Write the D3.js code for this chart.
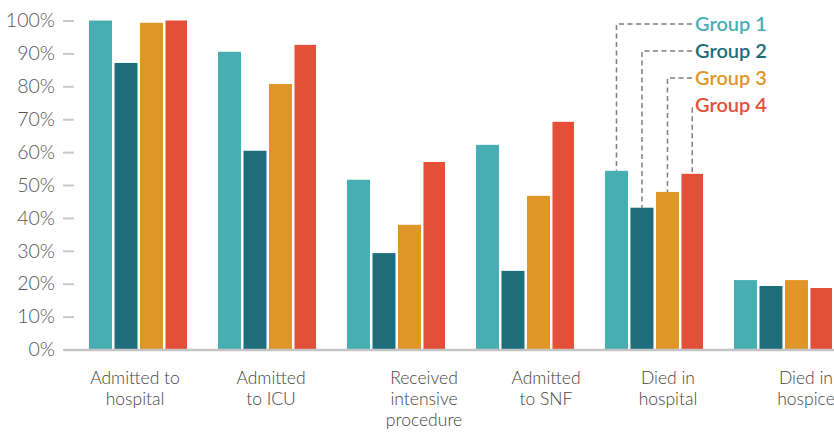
<!DOCTYPE html>
<html>
<head>
<meta charset="utf-8">
<script src="https://cdn.jsdelivr.net/npm/d3@7/dist/d3.min.js"></script>
<style>
  html, body { margin: 0; padding: 0; background: #fff; }
  svg { display: block; }
</style>
</head>
<body>
<svg id="chart" width="834" height="432"></svg>
<script>
// Outcome categories (multi-line labels split with "|")
const categories = [
  "Admitted to|hospital",
  "Admitted|to ICU",
  "Received|intensive|procedure",
  "Admitted|to SNF",
  "Died in|hospital",
  "Died in|hospice"
];
const seriesNames = ["Group 1", "Group 2", "Group 3", "Group 4"];

// Share of each group (%) per category
const group1 = [100, 90.5, 51.6, 62.2, 54.3, 21.1];
const group2 = [87.1, 60.4, 29.3, 23.9, 43.1, 19.3];
const group3 = [99.3, 80.7, 37.9, 46.7, 47.9, 21.1];
const group4 = [100, 92.6, 57.0, 69.2, 53.4, 18.7];
const yTicks = [0, 10, 20, 30, 40, 50, 60, 70, 80, 90, 100];

const seriesValues = [group1, group2, group3, group4];
const colors = ["#47AFB2", "#1D6E7A", "#E09626", "#E34F38"];

// Horizontal nudges of the category captions relative to their bar clusters
const labelNudge = [-3, 4, 28, 21, 14, 23];

const svg = d3.select("#chart");
const font = "Lato, 'Noto Sans', sans-serif";

const y = d3.scaleLinear().domain([0, 100]).range([349.5, 20.5]);

const x0 = d3.scaleBand()
  .domain(categories)
  .range([89, 832])
  .paddingInner(0.24)
  .paddingOuter(0);

const x1 = d3.scaleBand()
  .domain(seriesNames)
  .range([0, 99.5])
  .paddingInner(0.098)
  .paddingOuter(0);

// Y axis: short tick dashes and percentage labels
const yAxis = d3.axisLeft(y)
  .tickValues(yTicks)
  .tickFormat(d => d + "%")
  .tickSize(11)
  .tickPadding(8);

const ga = svg.append("g")
  .attr("transform", "translate(74,0)")
  .call(yAxis);
ga.select(".domain").remove();
ga.selectAll(".tick line")
  .attr("stroke", "#c8c8c8")
  .attr("stroke-width", 2);
ga.selectAll(".tick text")
  .attr("fill", "#555")
  .style("font-family", font)
  .style("font-weight", 300)
  .style("font-size", "19.5px");

// Bars
const cat = svg.append("g").selectAll("g")
  .data(categories)
  .join("g")
  .attr("transform", d => `translate(${x0(d)},0)`);

cat.selectAll("rect")
  .data((c, ci) => seriesNames.map((s, si) => ({ s, si, v: seriesValues[si][ci] })))
  .join("rect")
  .attr("x", d => x1(d.s))
  .attr("y", d => y(d.v))
  .attr("width", d => Math.min(x1.bandwidth(), x0.bandwidth() - x1(d.s)))
  .attr("height", d => y(0) - y(d.v))
  .attr("fill", d => colors[d.si]);

// Baseline
svg.append("line")
  .attr("x1", 64).attr("x2", 834)
  .attr("y1", y(0) + 0.5).attr("y2", y(0) + 0.5)
  .attr("stroke", "#c4c4c4")
  .attr("stroke-width", 2.5);

// Category captions
const captions = svg.append("g")
  .style("font-family", font)
  .style("font-weight", 300)
  .style("font-size", "17.5px")
  .attr("fill", "#444")
  .attr("text-anchor", "middle");

categories.forEach((c, i) => {
  const cx = x0(c) + x0.bandwidth() / 2 + labelNudge[i];
  const t = captions.append("text")
    .attr("x", cx)
    .attr("y", 384);
  c.split("|").forEach((line, li) => {
    t.append("tspan")
      .attr("x", cx)
      .attr("dy", li === 0 ? 0 : 21)
      .text(line);
  });
});

// Legend with dashed leaders pointing to the "Died in hospital" bars
const legendCat = categories[4];
const legendX = 695;
const legendY = [24, 51, 78, 105];
const leg = svg.append("g");

seriesNames.forEach((s, si) => {
  const cx = x0(legendCat) + x1(s) + Math.min(x1.bandwidth(), x0.bandwidth() - x1(s)) / 2;
  const top = y(seriesValues[si][4]);
  const ly = legendY[si];
  const startY = si === 3 ? ly + 3 : ly;
  leg.append("path")
    .attr("d", `M${legendX - 3},${startY}H${cx}V${top}`)
    .attr("fill", "none")
    .attr("stroke", "#7d7d7d")
    .attr("stroke-width", 1.5)
    .attr("stroke-dasharray", "5,3.5");
  leg.append("text")
    .attr("x", legendX)
    .attr("y", ly)
    .attr("dy", "0.35em")
    .attr("fill", colors[si])
    .style("font-family", font)
    .style("font-weight", 600)
    .style("font-size", "20px")
    .text(s);
});
</script>
</body>
</html>
